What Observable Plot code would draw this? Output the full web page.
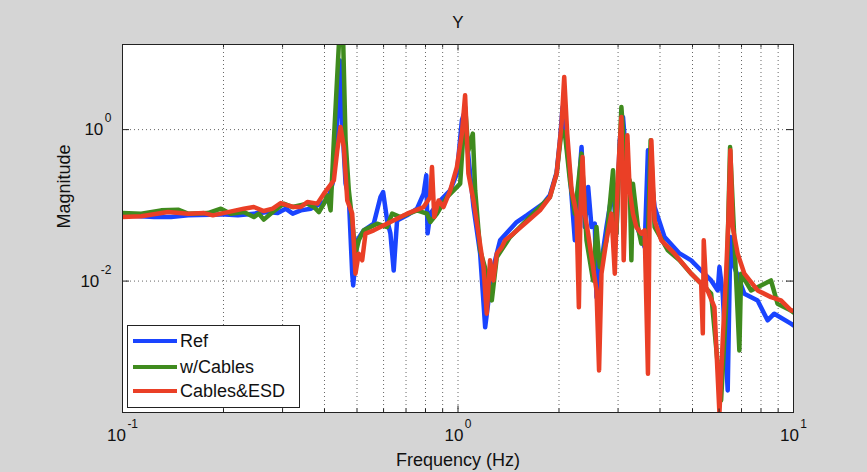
<!DOCTYPE html>
<html>
<head>
<meta charset="utf-8">
<script src="https://cdn.jsdelivr.net/npm/d3@7"></script>
<script src="https://cdn.jsdelivr.net/npm/@observablehq/plot@0.6"></script>
<style>
  html, body { margin: 0; padding: 0; background: #d5d5d5; }
  #wrap { position: relative; width: 867px; height: 472px; background: #d5d5d5; font-family: "Liberation Sans", Arial, Helvetica, sans-serif; overflow: hidden; }
  #legend { position: absolute; left: 127px; top: 325px; width: 171px; height: 81px; background: #fff; border: 1px solid #222; }
  .row { position: absolute; left: 0; height: 26px; display: flex; align-items: center; font-size: 18px; color: #111; white-space: nowrap; }
  .sw { width: 44px; height: 4px; margin-left: 5px; margin-right: 3px; }
</style>
</head>
<body>
<div id="wrap"><div id="chart"></div><div id="legend"></div></div>
<script>
// ---- Data ----
const seriesNames = ["Ref", "w/Cables", "Cables&ESD"];
const seriesColors = ["#1a44ff", "#3f8b1e", "#ea3f26"];

const refFreq = [0.1,0.1242,0.1395,0.1568,0.1965,0.2207,0.2463,0.271,0.29,0.3065,0.3216,0.34,0.3637,0.3895,0.4087,0.4229,0.4367,0.4445,0.4519,0.4622,0.4727,0.4838,0.4871,0.5006,0.5238,0.561,0.5873,0.5982,0.6148,0.6288,0.6432,0.6583,0.705,0.7549,0.7897,0.8044,0.8116,0.8267,0.8853,0.948,0.9924,1.027,1.043,1.112,1.164,1.205,1.261,1.335,1.496,1.602,1.795,1.879,1.968,2.013,2.05,2.155,2.23,2.335,2.388,2.443,2.5,2.557,2.587,2.646,2.77,2.898,2.966,3.034,3.103,3.211,3.362,3.6,3.683,3.855,4.128,4.575,4.955,5.307,5.683,5.945,6.015,6.152,6.366,6.485,6.665,7.138,7.816,8.37,8.762,9.824,10];
const refMag = [0.0738,0.0701,0.0701,0.0738,0.076,0.0738,0.0777,0.0815,0.0791,0.0904,0.0777,0.0859,0.0904,0.1053,0.116,0.195,1.21,8.17,1.21,0.195,0.1287,0.0126,0.00877,0.0345,0.0468,0.0573,0.1287,0.15,0.0633,0.0427,0.0138,0.0633,0.0738,0.0904,0.1428,0.249,0.0427,0.0777,0.116,0.158,0.2623,1.33,1.64,0.095,0.0232,0.00245,0.0126,0.0345,0.0602,0.0738,0.1053,0.136,0.273,0.722,1.989,0.2623,0.0345,0.589,0.0517,0.1745,0.0517,0.0573,0.00614,0.01253,0.0517,0.1745,0.0427,0.722,1.467,0.214,0.0633,0.0281,0.533,0.095,0.0381,0.0232,0.0188,0.0138,0.0102,0.00753,0.0153,0.00682,0.00036,0.0381,0.0153,0.00682,0.00556,0.00303,0.00371,0.00274,0.0026];

const cablesFreq = [0.1,0.1137,0.1303,0.1464,0.1568,0.1797,0.1965,0.2104,0.23,0.2463,0.2548,0.2637,0.2804,0.3023,0.3216,0.3556,0.372,0.385,0.3984,0.4078,0.4171,0.4266,0.4415,0.455,0.4622,0.4727,0.4838,0.4947,0.506,0.5238,0.5741,0.6148,0.6362,0.6733,0.7549,0.8083,0.8267,0.8656,0.9268,0.9924,1.015,1.05,1.074,1.107,1.125,1.164,1.218,1.261,1.305,1.429,1.602,1.795,1.879,1.968,2.036,2.083,2.155,2.23,2.335,2.416,2.527,2.587,2.646,2.77,2.898,2.966,3.069,3.176,3.249,3.287,3.323,3.438,3.52,3.683,3.751,3.855,4.222,4.575,4.955,5.683,6.084,6.296,6.471,6.665,6.897,6.979,7.47,8.567,8.962,9.824,10];
const cablesMag = [0.0791,0.0777,0.0859,0.0877,0.0777,0.0791,0.0904,0.0777,0.0815,0.0701,0.0777,0.0648,0.0815,0.1053,0.095,0.1053,0.095,0.0815,0.1053,0.136,0.0859,0.722,13.3,13.3,0.722,0.158,0.0633,0.023,0.0345,0.0468,0.0573,0.0517,0.0777,0.0701,0.0859,0.0777,0.0602,0.0777,0.1287,0.1745,0.1935,1.989,0.533,0.886,0.158,0.0255,0.01253,0.00556,0.0207,0.0381,0.0633,0.1053,0.1287,0.2623,0.98,0.886,0.214,0.0777,0.482,0.0345,0.0102,0.0517,0.0153,0.0345,0.29,0.0423,1.989,0.214,0.214,0.0188,0.1935,0.0517,0.0312,0.0345,0.722,0.0517,0.0255,0.0188,0.01253,0.00682,0.000265,0.00453,0.589,0.0345,0.00121,0.01253,0.00753,0.0102,0.00503,0.0041,0.00386];

const esdFreq = [0.1,0.1137,0.1367,0.1568,0.1749,0.186,0.2062,0.23,0.2463,0.2637,0.2804,0.2962,0.3107,0.3237,0.34,0.3556,0.3808,0.3984,0.4266,0.4367,0.4466,0.4568,0.4676,0.4838,0.4947,0.506,0.5181,0.5299,0.561,0.6288,0.705,0.7897,0.8267,0.8365,0.8497,0.8752,0.9056,0.948,0.9924,1.027,1.05,1.074,1.112,1.151,1.191,1.218,1.246,1.275,1.305,1.351,1.381,1.462,1.602,1.755,1.879,1.968,2.036,2.073,2.116,2.181,2.256,2.292,2.319,2.351,2.388,2.443,2.5,2.587,2.633,2.677,2.77,2.867,2.933,2.999,3.069,3.118,3.198,3.249,3.323,3.401,3.52,3.6,3.683,3.725,3.77,3.855,4.036,4.421,4.955,5.307,5.366,5.401,5.492,5.812,6.015,6.152,6.296,6.396,6.485,6.587,6.817,7.138,7.816,8.567,9.174,9.824,10];
const esdMag = [0.0701,0.0716,0.0815,0.0777,0.0791,0.0738,0.0815,0.0904,0.095,0.0841,0.0904,0.1073,0.1,0.095,0.095,0.1106,0.1053,0.1428,0.214,0.533,1.082,0.589,0.116,0.0777,0.01253,0.023,0.0188,0.0423,0.0468,0.0602,0.0777,0.095,0.1287,0.3207,0.0701,0.116,0.095,0.158,0.3207,0.886,2.84,0.2623,0.116,0.0423,0.0153,0.00371,0.0188,0.0102,0.023,0.0281,0.0345,0.0423,0.0602,0.0859,0.1287,0.2623,1.2,4.954,0.886,0.158,0.0777,0.00453,0.095,0.4347,0.0777,0.0423,0.0207,0.00753,0.000661,0.01253,0.0345,0.0777,0.01253,0.2623,1.467,0.0188,0.841,0.158,0.0777,0.0517,0.0423,0.0468,0.000598,0.0777,0.722,0.0633,0.0345,0.023,0.01253,0.00924,0.00204,0.0345,0.00833,0.00453,0.00018,0.00165,0.01253,0.0633,0.533,0.0517,0.023,0.01253,0.00753,0.00614,0.00556,0.0041,0.0041];

// Axes / ticks
const xDomain = [0.1, 10];
const yDomain = [1.84e-4, 13.3];
const xTickValues = [0.1, 1, 10];
const xTickLabels = ["10^-1", "10^0", "10^1"];
const yTickValues = [0.01, 1];
const yTickLabels = ["10^-2", "10^0"];
const xMinorTicks = [0.2,0.3,0.4,0.5,0.6,0.7,0.8,0.9,2,3,4,5,6,7,8,9];
const xGridValues = [0.2,0.3,0.4,0.5,0.6,0.7,0.8,0.9,1,2,3,4,5,6,7,8,9];
const titleText = "Y";
const xLabelText = "Frequency (Hz)";
const yLabelText = "Magnitude";

// ---- Build table ----
const allFreq = [refFreq, cablesFreq, esdFreq];
const allMag = [refMag, cablesMag, esdMag];
const rows = [];
seriesNames.forEach((name, s) => {
  allFreq[s].forEach((f, i) => rows.push({series: name, f, m: allMag[s][i]}));
});

const W = 867, H = 472, mL = 122, mR = 74, mT = 44, mB = 60;
const frameH = H - mT - mB, frameW = W - mL - mR;
const gridStyle = {stroke: "#000", strokeOpacity: 0.6, strokeDasharray: "1,3", strokeWidth: 1};
const tickStyle = {stroke: "#222", strokeWidth: 1};

const chart = Plot.plot({
  width: W, height: H,
  marginLeft: mL, marginRight: mR, marginTop: mT, marginBottom: mB,
  style: {background: "transparent", fontFamily: "'Liberation Sans', Arial, Helvetica, sans-serif", color: "#111"},
  x: {type: "log", domain: xDomain},
  y: {type: "log", domain: yDomain},
  color: {domain: seriesNames, range: seriesColors},
  marks: [
    Plot.frame({fill: "#fff", stroke: null}),
    Plot.ruleX(xGridValues, {x: d => d, ...gridStyle}),
    Plot.ruleY(yTickValues, {y: d => d, ...gridStyle}),
    Plot.line(rows, {x: "f", y: "m", z: "series", stroke: "series", strokeWidth: 4.5, strokeLinejoin: "round", strokeLinecap: "round", clip: true}),
    // inward tick marks
    Plot.tickX(xMinorTicks, {x: d => d, insetTop: frameH - 3.5, ...tickStyle}),
    Plot.tickX(xMinorTicks, {x: d => d, insetBottom: frameH - 3.5, ...tickStyle}),
    Plot.tickX(xTickValues, {x: d => d, insetTop: frameH - 6.5, ...tickStyle}),
    Plot.tickX(xTickValues, {x: d => d, insetBottom: frameH - 6.5, ...tickStyle}),
    Plot.tickY(yTickValues, {y: d => d, insetRight: frameW - 7, ...tickStyle}),
    Plot.tickY(yTickValues, {y: d => d, insetLeft: frameW - 7, ...tickStyle}),
    Plot.frame({stroke: "#222", strokeWidth: 1}),
    Plot.axisX(xTickValues, {anchor: "bottom", tickSize: 0, tickPadding: 16, fontSize: 17, label: null,
      tickFormat: d => xTickLabels[xTickValues.indexOf(d)]}),
    Plot.axisY(yTickValues, {anchor: "left", tickSize: 0, tickPadding: 11, fontSize: 17, label: null,
      tickFormat: d => yTickLabels[yTickValues.indexOf(d)]}),
    Plot.text([titleText], {frameAnchor: "top", dy: -17, lineAnchor: "bottom", fontSize: 17}),
    Plot.text([xLabelText], {frameAnchor: "bottom", dy: 53, lineAnchor: "bottom", fontSize: 18}),
    Plot.text([yLabelText], {frameAnchor: "left", dx: -58, rotate: -90, lineAnchor: "middle", fontSize: 18})
  ]
});

// superscript exponents in tick labels (10^k)
chart.querySelectorAll('[aria-label="x-axis tick label"] text, [aria-label="y-axis tick label"] text').forEach(t => {
  const s = t.textContent;
  if (!s.includes("^")) return;
  const [base, exp] = s.split("^");
  t.textContent = "";
  const ns = "http://www.w3.org/2000/svg";
  const a = document.createElementNS(ns, "tspan");
  a.textContent = base;
  const b = document.createElementNS(ns, "tspan");
  b.textContent = exp;
  b.setAttribute("dy", "-13");
  b.setAttribute("dx", "1.5");
  b.setAttribute("font-size", "12");
  t.appendChild(a); t.appendChild(b);
});

document.getElementById("chart").appendChild(chart);

// legend
const legend = document.getElementById("legend");
const rowTops = [2, 28, 52];
seriesNames.forEach((name, i) => {
  const r = document.createElement("div");
  r.className = "row";
  r.style.top = rowTops[i] + "px";
  const sw = document.createElement("span");
  sw.className = "sw";
  sw.style.background = seriesColors[i];
  const lab = document.createElement("span");
  lab.textContent = name;
  r.appendChild(sw); r.appendChild(lab);
  legend.appendChild(r);
});
</script>
</body>
</html>
